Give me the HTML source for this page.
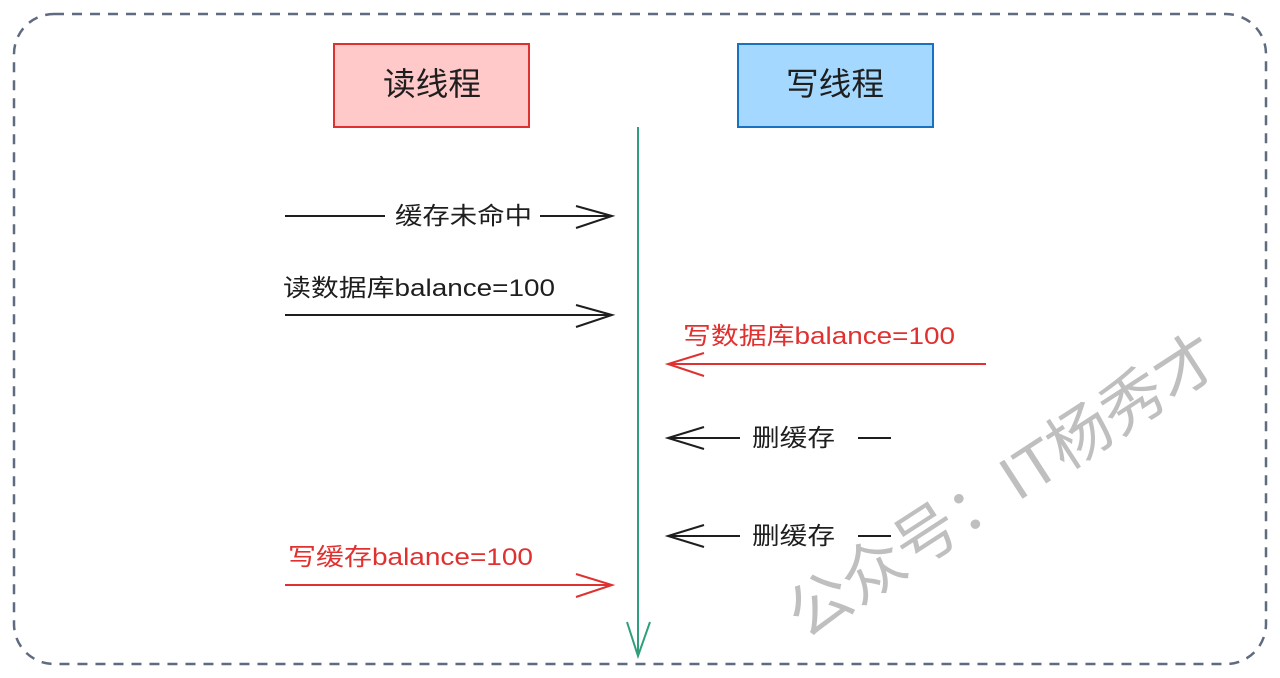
<!DOCTYPE html>
<html><head><meta charset="utf-8"><style>
html,body{margin:0;padding:0;background:#fff;}
svg{display:block}
text{font-family:"Liberation Sans","Noto Sans CJK SC",sans-serif;}
</style></head><body>
<svg width="1280" height="678" viewBox="0 0 1280 678" xmlns="http://www.w3.org/2000/svg">
<rect x="14" y="14" width="1252" height="650" rx="40" fill="none" stroke="#5f6b80" stroke-width="2.5" stroke-dasharray="10 8"/>
<rect x="334" y="44" width="195" height="83" fill="#ffc9c9" stroke="#e03131" stroke-width="2"/>
<text x="432" y="95" font-size="32" text-anchor="middle" fill="#1e1e1e" textLength="98" lengthAdjust="spacingAndGlyphs">读线程</text>
<rect x="738" y="44" width="195" height="83" fill="#a5d8ff" stroke="#1971c2" stroke-width="2"/>
<text x="835" y="95" font-size="32" text-anchor="middle" fill="#1e1e1e" textLength="98" lengthAdjust="spacingAndGlyphs">写线程</text>
<g stroke="#2f9e7c" stroke-width="2" fill="none">
<line x1="638" y1="127" x2="638" y2="656"/>
<polyline points="627,622 638,656 650,622"/>
</g>
<g stroke="#1e1e1e" stroke-width="2" fill="none">
<line x1="285" y1="216" x2="385" y2="216"/>
<line x1="540" y1="216" x2="612" y2="216"/>
<polyline points="576,206 612,216 576,228"/>
<line x1="285" y1="315" x2="612" y2="315"/>
<polyline points="576,305 612,315 576,327"/>
<line x1="668" y1="438" x2="740" y2="438"/>
<polyline points="704,427 668,438 704,449"/>
<line x1="858" y1="438" x2="891" y2="438"/>
<line x1="668" y1="536" x2="740" y2="536"/>
<polyline points="704,525 668,536 704,547"/>
<line x1="858" y1="536" x2="891" y2="536"/>
</g>
<g stroke="#e03131" stroke-width="2" fill="none">
<line x1="668" y1="364" x2="986" y2="364"/>
<polyline points="704,353 668,364 704,376"/>
<line x1="285" y1="585" x2="612" y2="585"/>
<polyline points="576,574 612,585 576,597"/>
</g>
<g font-size="24" fill="#1e1e1e">
<text x="395" y="224" textLength="137" lengthAdjust="spacingAndGlyphs">缓存未命中</text>
<text x="283" y="296" textLength="272" lengthAdjust="spacingAndGlyphs">读数据库balance=100</text>
<text x="752" y="446" textLength="83" lengthAdjust="spacingAndGlyphs">删缓存</text>
<text x="752" y="544" textLength="83" lengthAdjust="spacingAndGlyphs">删缓存</text>
</g>
<g font-size="24" fill="#e03131">
<text x="683" y="344" textLength="272" lengthAdjust="spacingAndGlyphs">写数据库balance=100</text>
<text x="288" y="565" textLength="245" lengthAdjust="spacingAndGlyphs">写缓存balance=100</text>
</g>
<text x="0" y="0" font-size="62" fill="#b0b0b0" opacity="0.8" transform="translate(805,640) rotate(-33)" textLength="500" lengthAdjust="spacingAndGlyphs">公众号：IT杨秀才</text>
</svg>
</body></html>
